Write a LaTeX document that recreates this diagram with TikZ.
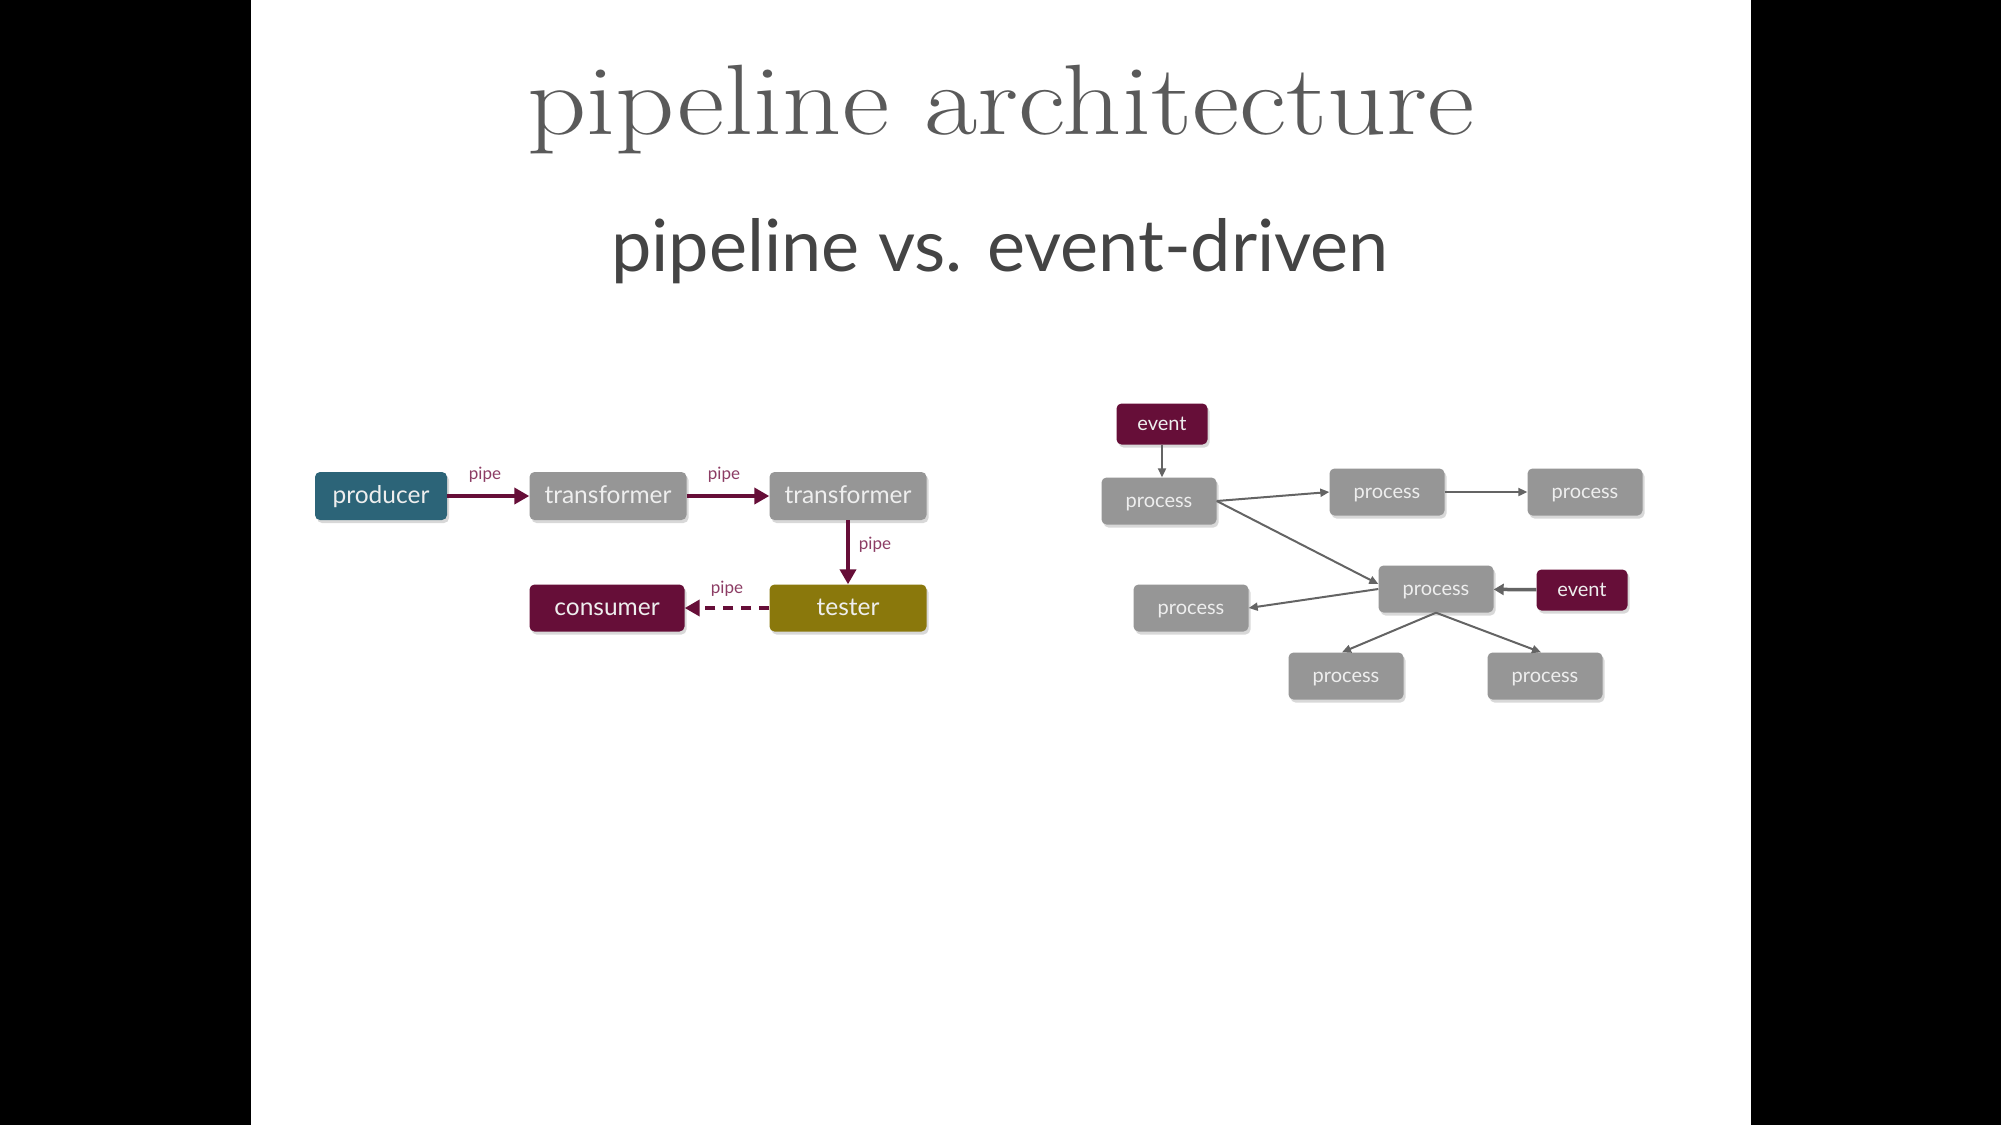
\documentclass[tikz,border=0pt]{standalone}
\usepackage{fontspec}
\newfontfamily\sansf{Lato}
\usetikzlibrary{arrows.meta,shadows}
\definecolor{teal1}{RGB}{44,100,120}
\definecolor{grayn}{RGB}{150,150,150}
\definecolor{maroon1}{RGB}{102,14,56}
\definecolor{olive1}{RGB}{138,120,12}
\definecolor{pipec}{RGB}{140,60,100}
\definecolor{arrowg}{RGB}{100,100,100}
\definecolor{titleg}{RGB}{90,90,90}
\definecolor{subg}{RGB}{68,68,68}
\definecolor{nodetext}{RGB}{238,238,238}
\tikzset{
  box/.style={rounded corners=5pt, inner sep=0pt, text=nodetext,
    drop shadow={shadow xshift=2pt,shadow yshift=-3pt,opacity=0.3}},
  bigbox/.style={box, minimum height=48pt, text height=19pt, text depth=4pt, font=\sansf\fontsize{24.5}{24.5}\selectfont},
  smallbox/.style={box, minimum height=47pt, minimum width=115pt, fill=grayn, text height=16pt, text depth=4pt, font=\sansf\fontsize{20}{20}\selectfont},
  eventbox/.style={box, minimum height=41pt, minimum width=91pt, fill=maroon1, text height=16pt, text depth=4pt, font=\sansf\fontsize{20}{20}\selectfont},
  pipelbl/.style={text=pipec, inner sep=0pt, text height=12pt, text depth=3.5pt, font=\sansf\fontsize{17}{17}\selectfont},
  parrow/.style={draw=maroon1, line width=4pt, -{Triangle[length=15pt,width=16pt]}},
  garrow/.style={draw=arrowg, line width=2pt, -{Triangle[length=9pt,width=8pt]}},
  garrowthick/.style={draw=arrowg, line width=3.5pt, -{Triangle[length=10pt,width=11pt]}},
}
\begin{document}
\begin{tikzpicture}[x=1pt,y=-1pt]
\useasboundingbox (0,0) rectangle (2001,1125);
\fill[black] (0,0) rectangle (2001,1125);
\fill[white] (251,0) rectangle (1751,1125);

% titles
\node[anchor=base, text=titleg, inner sep=0pt, font=\fontsize{100}{100}\selectfont] (title) at (1001,134) {\scalebox{1.16}[1]{pipeline architecture}};
\node[anchor=base, text=subg, inner sep=0pt, font=\sansf\fontsize{72}{72}\selectfont] (subtitle) at (1000,271) {pipeline vs. event-driven};

% pipeline
\node[bigbox, fill=teal1, minimum width=132pt] (prod) at (381,496) {producer};
\node[bigbox, fill=grayn, minimum width=157pt] (t1) at (608,496) {transformer};
\node[bigbox, fill=grayn, minimum width=157pt] (t2) at (848,496) {transformer};
\node[bigbox, fill=maroon1, minimum width=155pt, minimum height=47pt] (cons) at (607,608) {consumer};
\node[bigbox, fill=olive1, minimum width=157pt, minimum height=47pt] (tester) at (848,608) {tester};

\draw[parrow] (prod) -- (t1);
\draw[parrow] (t1) -- (t2);
\draw[parrow] (t2) -- (tester);
\draw[parrow, dash pattern=on 10pt off 8pt] (tester) -- (cons);

\node[pipelbl] (l1) at (485,475) {pipe};
\node[pipelbl] (l2) at (724,475) {pipe};
\node[pipelbl] (l3) at (875,545) {pipe};
\node[pipelbl] (l4) at (727,589) {pipe};

% event-driven
\node[eventbox] (ev1) at (1162,424) {event};
\node[smallbox] (pA) at (1159,501) {process};
\node[smallbox] (pB) at (1387,492) {process};
\node[smallbox] (pC) at (1585,492) {process};
\node[smallbox] (pD) at (1436,589) {process};
\node[eventbox] (ev2) at (1582,590) {event};
\node[smallbox] (pE) at (1191,608) {process};
\node[smallbox] (pF) at (1346,676) {process};
\node[smallbox] (pG) at (1545,676) {process};

\draw[garrow] (ev1.south) -- (ev1.south |- pA.north);
\draw[garrow] (pA.east) -- (pB.west);
\draw[garrow] (pB) -- (pC);
\draw[garrow] (pA.east) -- ([yshift=5pt]pD.west);
\draw[garrow] (pD.west) -- (pE.east);
\draw[garrowthick] (ev2) -- (pD);
\draw[garrow] (pD.south) -- ([xshift=-4pt]pF.north);
\draw[garrow] (pD.south) -- ([xshift=-4pt]pG.north);
\end{tikzpicture}
\end{document}
